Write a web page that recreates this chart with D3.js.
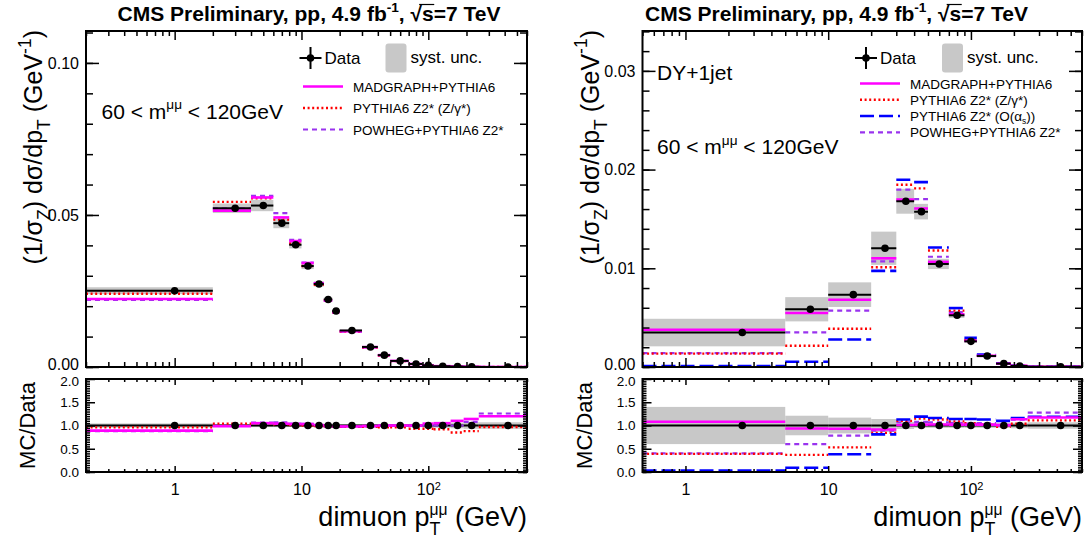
<!DOCTYPE html>
<html>
<head>
<meta charset="utf-8">
<script src="https://cdn.jsdelivr.net/npm/d3@7"></script>
<style>
  body { margin: 0; background: #fff; }
  svg { display: block; font-family: "Liberation Sans", Arial, Helvetica, sans-serif; }
</style>
</head>
<body>
<svg id="chart" width="1084" height="539"></svg>
<script>
// ---- Inclusive Z/gamma* -> mumu, 60 < m < 120 GeV ----
const zEdges = [0, 2, 4, 6, 8, 10, 12.5, 15, 17.5, 20, 30, 40, 50, 70, 90, 110, 150, 190, 250, 600];
const zData = [0.0251, 0.0522, 0.0531, 0.0473, 0.0402, 0.0332, 0.0273, 0.0222, 0.0184, 0.0120, 0.0066, 0.0039, 0.0020, 0.00100, 0.00052, 0.00026, 0.00013, 0.000065, 0.000012];
const zSystRel = [0.045, 0.03, 0.035, 0.035, 0.03, 0.03, 0.03, 0.03, 0.03, 0.03, 0.03, 0.03, 0.03, 0.035, 0.04, 0.05, 0.06, 0.07, 0.07];
const zMadgraph = [0.02234, 0.05142, 0.05576, 0.04919, 0.04141, 0.03420, 0.02757, 0.02187, 0.01803, 0.01176, 0.006534, 0.0039, 0.0020, 0.0010, 0.000541, 0.000273, 0.000143, 0.0000741, 0.0000144];
const zPythia = [0.02410, 0.05429, 0.05549, 0.04848, 0.04060, 0.0332, 0.02703, 0.02198, 0.01803, 0.01164, 0.006402, 0.003744, 0.00192, 0.00093, 0.000484, 0.000239, 0.0001105, 0.0000572, 0.0000116];
const zPowheg = [0.02209, 0.0522, 0.05629, 0.05061, 0.04181, 0.03436, 0.02757, 0.02176, 0.01785, 0.01164, 0.006468, 0.003861, 0.00198, 0.00099, 0.00052, 0.00026, 0.00013, 0.0000702, 0.0000151];

// ---- DY + 1 jet, 60 < m < 120 GeV ----
const jEdges = [0, 5, 10, 20, 30, 40, 50, 70, 90, 110, 150, 190, 250, 600];
const jData = [0.00349, 0.00585, 0.00733, 0.01203, 0.01679, 0.01574, 0.01044, 0.00524, 0.00260, 0.00111, 0.00034, 0.000105, 0.000018];
const jSystRel = [0.40, 0.21, 0.17, 0.14, 0.075, 0.05, 0.05, 0.05, 0.05, 0.05, 0.05, 0.06, 0.07];
const jMadgraph = [0.00377, 0.00547, 0.00682, 0.01101, 0.01696, 0.01605, 0.01065, 0.00534, 0.00265, 0.001132, 0.000343, 0.000119, 0.0000211];
const jPythia = [0.00136, 0.00216, 0.00388, 0.01011, 0.01847, 0.01810, 0.01180, 0.00571, 0.00273, 0.001132, 0.00033, 0.000109, 0.00002];
const jPythiaAlphaS = [0.000105, 0.000527, 0.00279, 0.00974, 0.01897, 0.01873, 0.01211, 0.00597, 0.00296, 0.001254, 0.000374, 0.000122, 0.0000214];
const jPowheg = [0.0014, 0.00351, 0.00572, 0.01071, 0.01797, 0.0170, 0.01117, 0.00555, 0.0027, 0.001166, 0.00034, 0.000118, 0.000023];

// axis ticks
const zYTicks = [0, 0.05, 0.10];
const jYTicks = [0, 0.01, 0.02, 0.03];
const ratioTicks = [0, 0.5, 1.0, 1.5, 2.0];
const xMajorTicks = [1, 10, 100];

// ---- styles ----
const STY = {
  mad: { stroke: "#ff00ff", w: 2.6, dash: null },
  pyt: { stroke: "#ff0000", w: 2.4, dash: "2,2.6" },
  pas: { stroke: "#0000ff", w: 2.6, dash: "14,5" },
  pow: { stroke: "#9933ee", w: 2.2, dash: "5,4" }
};
const BAND = "#c8c8c8";
const TOP = 31, MAIN_B = 367, RAT_T = 379, RAT_B = 472;

const svg = d3.select("#chart");

// rich text: parts of {t, sub, sup, scale, shift, stack}
function rich(sel, parts, fs) {
  let shift = 0, prev = null;
  parts.forEach(p => {
    const ts = sel.append("tspan").text(p.t);
    const target = p.sub ? fs * (p.shift || 0.32) : p.sup ? -fs * (p.shift || 0.45) : 0;
    if (target !== shift) { ts.attr("dy", target - shift); shift = target; }
    if (p.sub || p.sup) ts.attr("font-size", fs * (p.scale || 0.7));
    if (p.stack && prev) ts.attr("dx", -prev.node().getComputedTextLength());
    prev = ts;
  });
  return sel;
}

function text(g, x, y, fs, parts, opts = {}) {
  const t = g.append("text").attr("x", x).attr("y", y).attr("font-size", fs)
    .attr("fill", "#000").attr("text-anchor", opts.anchor || "start");
  if (opts.weight) t.attr("font-weight", opts.weight);
  if (opts.transform) t.attr("transform", opts.transform).attr("x", 0).attr("y", 0);
  rich(t, typeof parts === "string" ? [{ t: parts }] : parts, fs);
  return t;
}

function styleLine(sel, s) {
  sel.attr("stroke", s.stroke).attr("stroke-width", s.w).attr("fill", "none");
  if (s.dash) sel.attr("stroke-dasharray", s.dash);
  return sel;
}

function drawPanel(p, idx) {
  const g = svg.append("g");
  const x = d3.scaleLog().domain(p.xDomain).range([p.x0, p.x1]);
  const y = d3.scaleLinear().domain([0, p.yMax]).range([MAIN_B, TOP]);
  const r = d3.scaleLinear().domain([0, 2]).range([RAT_B, RAT_T]);

  const bins = p.data.map((v, i) => ({
    lo: Math.max(p.edges[i], p.xDomain[0]), hi: p.edges[i + 1],
    c: (p.edges[i] + p.edges[i + 1]) / 2, v, s: p.syst[i], i
  }));

  const defs = svg.append("defs");
  defs.append("clipPath").attr("id", "cm" + idx).append("rect")
    .attr("x", p.x0).attr("y", TOP).attr("width", p.x1 - p.x0).attr("height", MAIN_B - TOP);
  defs.append("clipPath").attr("id", "cr" + idx).append("rect")
    .attr("x", p.x0).attr("y", RAT_T).attr("width", p.x1 - p.x0).attr("height", RAT_B - RAT_T);

  // ---------- main pad ----------
  const gm = g.append("g").attr("clip-path", `url(#cm${idx})`);
  gm.selectAll("rect.band").data(bins).join("rect")
    .attr("x", d => x(d.lo)).attr("width", d => x(d.hi) - x(d.lo))
    .attr("y", d => y(d.v * (1 + d.s))).attr("height", d => y(d.v * (1 - d.s)) - y(d.v * (1 + d.s)))
    .attr("fill", BAND);
  p.models.forEach(m => {
    styleLine(gm.append("g").selectAll("line").data(bins).join("line")
      .attr("x1", d => x(d.lo)).attr("x2", d => x(d.hi))
      .attr("y1", d => y(m.vals[d.i])).attr("y2", d => y(m.vals[d.i])), STY[m.style]);
  });
  gm.append("g").selectAll("line").data(bins).join("line")
    .attr("x1", d => x(d.lo)).attr("x2", d => x(d.hi))
    .attr("y1", d => y(d.v)).attr("y2", d => y(d.v))
    .attr("stroke", "#000").attr("stroke-width", 2);
  gm.append("g").selectAll("circle").data(bins).join("circle")
    .attr("cx", d => x(d.c)).attr("cy", d => y(d.v)).attr("r", 3.8).attr("fill", "#000");

  // ---------- ratio pad ----------
  const gr = g.append("g").attr("clip-path", `url(#cr${idx})`);
  gr.selectAll("rect.band").data(bins).join("rect")
    .attr("x", d => x(d.lo)).attr("width", d => x(d.hi) - x(d.lo))
    .attr("y", d => r(1 + d.s)).attr("height", d => r(1 - d.s) - r(1 + d.s))
    .attr("fill", BAND);
  gr.append("g").selectAll("line").data(bins).join("line")
    .attr("x1", d => x(d.lo)).attr("x2", d => x(d.hi))
    .attr("y1", r(1)).attr("y2", r(1))
    .attr("stroke", "#000").attr("stroke-width", 2);
  p.models.forEach(m => {
    styleLine(gr.append("g").selectAll("line").data(bins).join("line")
      .attr("x1", d => x(d.lo)).attr("x2", d => x(d.hi))
      .attr("y1", d => r(m.vals[d.i] / d.v)).attr("y2", d => r(m.vals[d.i] / d.v)), STY[m.style]);
  });
  gr.append("g").selectAll("circle").data(bins).join("circle")
    .attr("cx", d => x(d.c)).attr("cy", r(1)).attr("r", 3.8).attr("fill", "#000");

  // ---------- axes ----------
  const minorX = [];
  for (let dec = 0.1; dec < 1000; dec *= 10)
    for (let k = 2; k <= 9; k++) {
      const v = +(k * dec).toPrecision(3);
      if (v >= p.xDomain[0] && v <= p.xDomain[1]) minorX.push(v);
    }
  const fontAxis = (sel, fs) => sel.attr("font-family", null).attr("font-size", fs)
    .call(s => s.select(".domain").remove())
    .call(s => s.selectAll("line").attr("stroke", "#000").attr("stroke-width", 1.5));

  const xAxis = (orient, yPos, len, labels) => {
    const A = orient === "top" ? d3.axisTop : d3.axisBottom;
    g.append("g").attr("transform", `translate(0,${yPos})`)
      .call(A(x).tickValues(minorX).tickSizeInner(-len[1]).tickSizeOuter(0).tickFormat(""))
      .call(s => fontAxis(s, 16));
    const ga = g.append("g").attr("transform", `translate(0,${yPos})`)
      .call(A(x).tickValues(xMajorTicks).tickSizeInner(-len[0]).tickSizeOuter(0).tickPadding(12)
        .tickFormat(labels ? (d => d === 100 ? "10" : String(d)) : ""))
      .call(s => fontAxis(s, 16));
    if (labels) {
      ga.selectAll("text").attr("fill", "#000").each(function (d) {
        if (d === 100) d3.select(this).append("tspan").attr("dy", "-0.45em").attr("font-size", 11).text("2");
      });
    }
  };
  xAxis("bottom", MAIN_B, [9, 5], false);
  xAxis("top", TOP, [9, 5], false);
  xAxis("bottom", RAT_B, [6, 3], true);
  xAxis("top", RAT_T, [6, 3], false);

  const yAxis = (scale, side, majors, minors, lenMaj, lenMin, fmt, fs, nudge) => {
    const A = side === "left" ? d3.axisLeft : d3.axisRight;
    const xPos = side === "left" ? p.x0 : p.x1;
    g.append("g").attr("transform", `translate(${xPos},0)`)
      .call(A(scale).tickValues(minors).tickSizeInner(-lenMin).tickSizeOuter(0).tickFormat(""))
      .call(s => fontAxis(s, fs));
    const ga = g.append("g").attr("transform", `translate(${xPos},0)`)
      .call(A(scale).tickValues(majors).tickSizeInner(-lenMaj).tickSizeOuter(0).tickPadding(7)
        .tickFormat(side === "left" ? d3.format(fmt) : ""))
      .call(s => fontAxis(s, fs));
    ga.selectAll("text").attr("fill", "#000").attr("y", d => nudge(d));
  };
  const mainMinor = d3.range(0, Math.round(p.yMax / p.yMinor) + 1).map(k => +(k * p.yMinor).toFixed(4)).filter(v => v <= p.yMax);
  const ratMinor = d3.range(0, 41).map(k => +(k * 0.05).toFixed(2));
  ["left", "right"].forEach(side => {
    // the lowest main label and the highest ratio label sit close together; keep them apart
    yAxis(y, side, p.yTicks, mainMinor, 13, 7, ".2f", 16, d => (d === 0 ? -3 : 0));
    yAxis(r, side, ratioTicks, ratMinor, 9, 4, ".1f", 13.5, d => (d === 2 ? 2 : 0));
  });

  // frames
  g.append("rect").attr("x", p.x0).attr("y", TOP).attr("width", p.x1 - p.x0).attr("height", MAIN_B - TOP)
    .attr("fill", "none").attr("stroke", "#000").attr("stroke-width", 2);
  g.append("rect").attr("x", p.x0).attr("y", RAT_T).attr("width", p.x1 - p.x0).attr("height", RAT_B - RAT_T)
    .attr("fill", "none").attr("stroke", "#000").attr("stroke-width", 2);

  // axis titles
  const yTitle = [{ t: "(1/σ" }, { t: "Z", sub: true }, { t: ") dσ/dp" }, { t: "T", sub: true },
    { t: " (GeV" }, { t: "-1", sup: true }, { t: ")" }];
  text(g, 0, 0, 25, yTitle, { anchor: "end", transform: `translate(${p.x0 - 44},${TOP - 1}) rotate(-90)` });
  text(g, 0, 0, 22, "MC/Data", { anchor: "middle", transform: `translate(${p.x0 - 51},${(RAT_T + RAT_B) / 2}) rotate(-90)` });
  text(g, p.x1, 526, 27, [{ t: "dimuon p" }, { t: "T", sub: true, scale: 0.66, shift: 0.34 },
    { t: "μμ", sup: true, scale: 0.58, shift: 0.4, stack: true }, { t: " (GeV)" }], { anchor: "end" });

  // title with sqrt(s)
  const title = text(g, p.titleX, 21, 21,
    [{ t: "CMS Preliminary, pp, 4.9 fb" }, { t: "-1", sup: true, scale: 0.65 }, { t: ", √s=7 TeV" }],
    { anchor: "middle", weight: "bold" });
  const full = title.text();
  const iRoot = full.indexOf("√");
  const eR = title.node().getExtentOfChar(iRoot), eS = title.node().getExtentOfChar(iRoot + 1);
  g.append("line").attr("x1", eR.x + eR.width * 0.75).attr("x2", eS.x + eS.width + 0.5)
    .attr("y1", eR.y + 2.5).attr("y2", eR.y + 2.5).attr("stroke", "#000").attr("stroke-width", 1.2);

  // in-plot labels
  p.labels.forEach(l => text(g, l.x, l.y, 21, l.parts));

  // legend
  const L = p.legend;
  g.append("line").attr("x1", L.dataX - 11).attr("x2", L.dataX + 11).attr("y1", L.dataY).attr("y2", L.dataY)
    .attr("stroke", "#000").attr("stroke-width", 2);
  g.append("line").attr("x1", L.dataX).attr("x2", L.dataX).attr("y1", L.dataY - 11).attr("y2", L.dataY + 11)
    .attr("stroke", "#000").attr("stroke-width", 2);
  g.append("circle").attr("cx", L.dataX).attr("cy", L.dataY).attr("r", 3.8).attr("fill", "#000");
  text(g, L.dataX + 14, L.dataY + 6, 17, "Data");
  g.append("rect").attr("x", L.boxX).attr("y", 43.5).attr("width", 21).attr("height", 29)
    .attr("rx", 3).attr("fill", BAND);
  text(g, L.boxX + 25, L.dataY + 5, 17, "syst. unc.");
  p.models.slice().sort((a, b) => a.order - b.order).forEach((m, k) => {
    const yy = L.rows[k];
    styleLine(g.append("line").attr("x1", L.lineX).attr("x2", L.lineX + 40).attr("y1", yy).attr("y2", yy), STY[m.style]);
    text(g, L.lineX + 50, yy + 5, 13.5, m.label);
  });
}

const panels = [
  {
    edges: zEdges, data: zData, syst: zSystRel,
    models: [
      { label: "POWHEG+PYTHIA6 Z2*", vals: zPowheg, style: "pow", order: 3 },
      { label: [{ t: "PYTHIA6 Z2* (Z/γ*)" }], vals: zPythia, style: "pyt", order: 2 },
      { label: "MADGRAPH+PYTHIA6", vals: zMadgraph, style: "mad", order: 1 }
    ],
    x0: 86, x1: 527, xDomain: [0.2, 600], yMax: 0.1105, yTicks: zYTicks, yMinor: 0.01,
    titleX: 309,
    labels: [{ x: 101.5, y: 118.5, parts: [{ t: "60 < m" }, { t: "μμ", sup: true, scale: 0.65 }, { t: " < 120GeV" }] }],
    legend: { dataX: 310.5, dataY: 58, boxX: 385.5, lineX: 303, rows: [86.5, 108, 129.5] }
  },
  {
    edges: jEdges, data: jData, syst: jSystRel,
    models: [
      { label: "POWHEG+PYTHIA6 Z2*", vals: jPowheg, style: "pow", order: 4 },
      { label: [{ t: "PYTHIA6 Z2* (Z/γ*)" }], vals: jPythia, style: "pyt", order: 2 },
      { label: [{ t: "PYTHIA6 Z2* (O(α" }, { t: "s", sub: true, shift: 0.22, scale: 0.62 }, { t: "))" }], vals: jPythiaAlphaS, style: "pas", order: 3 },
      { label: "MADGRAPH+PYTHIA6", vals: jMadgraph, style: "mad", order: 1 }
    ],
    x0: 642.5, x1: 1082, xDomain: [0.5, 600], yMax: 0.03404, yTicks: jYTicks, yMinor: 0.002,
    titleX: 836.5,
    labels: [
      { x: 657, y: 80, parts: [{ t: "DY+1jet" }] },
      { x: 657, y: 154, parts: [{ t: "60 < m" }, { t: "μμ", sup: true, scale: 0.65 }, { t: " < 120GeV" }] }
    ],
    legend: { dataX: 866, dataY: 58, boxX: 942, lineX: 860, rows: [83.5, 99.8, 116, 132.3] }
  }
];

panels.forEach(drawPanel);
</script>
</body>
</html>
